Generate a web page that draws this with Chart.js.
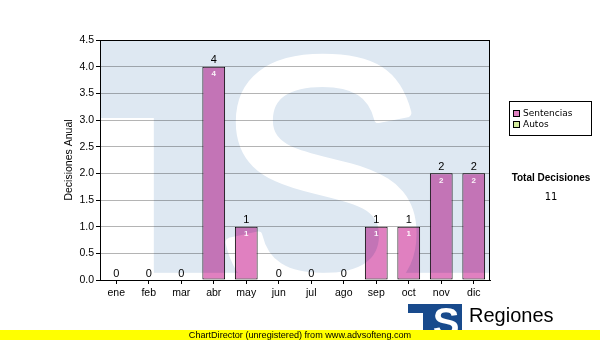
<!DOCTYPE html>
<html><head><meta charset="utf-8">
<script src="https://cdn.jsdelivr.net/npm/chart.js@4.4.0/dist/chart.umd.min.js"></script>
<style>html,body{margin:0;padding:0;background:#fff;}canvas{display:block;}</style>
</head><body>
<canvas id="c" width="600" height="340"></canvas>
<script>
const months = ['ene','feb','mar','abr','may','jun','jul','ago','sep','oct','nov','dic'];
const sentencias = [0,0,0,4,1,0,0,0,1,1,2,2];
const yMin = 0, yMax = 4.5, yStep = 0.5;
const legendLabels = ['Sentencias','Autos'];
const legendColors = ['#e080c0','#d4ec9c'];
const axisTitle = 'Decisiones Anual';
const totalLabel = 'Total Decisiones';
const brandName = 'Regiones';
const brandSub = 'Tribunal Supremo de Justicia';
const footerText = 'ChartDirector (unregistered) from www.advsofteng.com';

const SANS = '"Liberation Sans", Arial, sans-serif';
const TAHOMA = '"DejaVu Sans", Verdana, sans-serif';

function drawWatermark(chart) {
  const {ctx, chartArea: a} = chart;
  const W = a.right - a.left, H = a.bottom - a.top;
  const off = document.createElement('canvas');
  off.width = 600; off.height = 340;
  const o = off.getContext('2d');
  o.fillStyle = '#fff'; o.fillRect(0, 0, 600, 340);
  o.fillStyle = '#dee8f2';
  const barBottom = a.top + H * 0.325;
  const stemLeft = a.left + W * 0.138;
  const stemBottom = a.top + H * 0.97;
  o.fillRect(a.left, a.top, W, barBottom - a.top);
  o.fillRect(stemLeft, barBottom, a.right - stemLeft, stemBottom - barBottom);
  o.save();
  o.fillStyle = '#fff';
  o.strokeStyle = '#fff';
  o.lineWidth = 9;
  o.lineJoin = 'round';
  o.font = '345px ' + SANS;
  o.textAlign = 'center'; o.textBaseline = 'alphabetic';
  o.translate(a.left + W * 0.567, a.top + H * 1.08);
  o.scale(0.92, 1);
  o.fillText('S', 0, 0);
  o.strokeText('S', 0, 0);
  o.restore();
  ctx.save();
  ctx.beginPath(); ctx.rect(a.left, a.top, W, H); ctx.clip();
  ctx.globalCompositeOperation = 'multiply';
  ctx.drawImage(off, 0, 0);
  ctx.restore();
}

const decoPlugin = {
  id: 'deco',
  beforeDraw(chart) {
    const ctx = chart.ctx;
    ctx.save(); ctx.fillStyle = '#fff'; ctx.fillRect(0, 0, chart.width, chart.height); ctx.restore();
  },
  afterDatasetsDraw(chart) {
    const {ctx, chartArea: a} = chart;
    drawWatermark(chart);
    ctx.save();
    ctx.strokeStyle = '#000'; ctx.lineWidth = 1;
    ctx.strokeRect(Math.round(a.left) + 0.5, Math.round(a.top) + 0.5, Math.round(a.right - a.left) - 1, Math.round(a.bottom - a.top));
    ctx.restore();
    const meta = chart.getDatasetMeta(0);
    ctx.save();
    ctx.textAlign = 'center'; ctx.textBaseline = 'middle';
    meta.data.forEach((bar, i) => {
      const v = sentencias[i];
      ctx.fillStyle = '#000';
      ctx.font = '11px ' + SANS;
      ctx.fillText(String(v), bar.x, bar.y - 6.5);
      if (v > 0) {
        ctx.fillStyle = 'rgba(255,255,255,0.92)';
        ctx.font = 'bold 8px ' + SANS;
        ctx.fillText(String(v), bar.x, bar.y + 7.5);
      }
    });
    ctx.restore();
  },
  afterDraw(chart) {
    const ctx = chart.ctx;
    ctx.save();
    ctx.strokeStyle = '#000'; ctx.lineWidth = 1;
    ctx.fillStyle = '#fff';
    ctx.fillRect(509.5, 101.5, 82, 34);
    ctx.strokeRect(509.5, 101.5, 82, 34);
    legendLabels.forEach((lab, i) => {
      const cy = 114 + i * 11;
      ctx.fillStyle = legendColors[i];
      ctx.fillRect(513.5, cy - 3.5, 6, 6);
      ctx.strokeStyle = '#000';
      ctx.strokeRect(513.5, cy - 3.5, 6, 6);
      ctx.fillStyle = '#000';
      ctx.font = '9px ' + TAHOMA;
      ctx.textAlign = 'left'; ctx.textBaseline = 'middle';
      ctx.fillText(lab, 523, cy);
    });
    const total = sentencias.reduce((s, v) => s + v, 0);
    ctx.textAlign = 'center'; ctx.textBaseline = 'middle';
    ctx.font = 'bold 10px ' + SANS;
    ctx.fillText(totalLabel, 551, 178);
    ctx.font = '10px ' + TAHOMA;
    ctx.fillText(String(total), 551, 197);
    ctx.fillStyle = '#184a8c';
    ctx.fillRect(408, 304, 54, 9);
    ctx.fillRect(423, 313, 39, 27);
    ctx.fillStyle = '#fff';
    ctx.font = 'bold 40px ' + SANS;
    ctx.textAlign = 'center'; ctx.textBaseline = 'alphabetic';
    ctx.fillText('S', 446, 336);
    ctx.fillStyle = '#000';
    ctx.textAlign = 'left';
    ctx.font = '20px ' + SANS;
    ctx.fillText(brandName, 469, 322);
    ctx.font = '11px ' + SANS;
    ctx.fillText(brandSub, 467, 339);
    ctx.fillStyle = '#ffff00';
    ctx.fillRect(0, 330, 600, 10);
    ctx.fillStyle = '#000';
    ctx.font = '9.1px ' + SANS;
    ctx.textAlign = 'center'; ctx.textBaseline = 'middle';
    ctx.fillText(footerText, 300, 335.5);
    ctx.restore();
  }
};

new Chart(document.getElementById('c'), {
  type: 'bar',
  data: {
    labels: months,
    datasets: [{
      label: legendLabels[0],
      data: sentencias,
      backgroundColor: legendColors[0],
      borderColor: '#000',
      borderWidth: 1,
      borderSkipped: false,
      categoryPercentage: 1,
      barPercentage: 0.7
    }]
  },
  options: {
    responsive: false,
    animation: false,
    devicePixelRatio: 1,
    layout: {padding: {left: 0, right: 110, top: 40, bottom: 0}},
    plugins: {legend: {display: false}, tooltip: {enabled: false}, title: {display: false}},
    scales: {
      x: {
        offset: true,
        grid: {display: true, drawOnChartArea: false, offset: false, tickLength: 4, color: '#000', tickColor: '#000'},
        border: {display: true, color: '#000', width: 1},
        ticks: {color: '#000', font: {family: SANS, size: 10.5}, padding: 3, maxRotation: 0, autoSkip: false},
        afterFit(scale) { scale.height = 60; }
      },
      y: {
        min: yMin, max: yMax,
        grid: {color: '#b4b4b4', tickColor: '#000', tickLength: 4, lineWidth: 1},
        border: {display: true, color: '#000', width: 1},
        ticks: {stepSize: yStep, color: '#000', font: {family: SANS, size: 10.5}, padding: 2,
          callback: v => Number(v).toFixed(1)},
        title: {display: true, text: axisTitle, color: '#000', font: {family: SANS, size: 10.5}, padding: {top: 63, bottom: 0}},
        afterFit(scale) { scale.width = 100; }
      }
    }
  },
  plugins: [decoPlugin]
});
</script>
</body></html>
